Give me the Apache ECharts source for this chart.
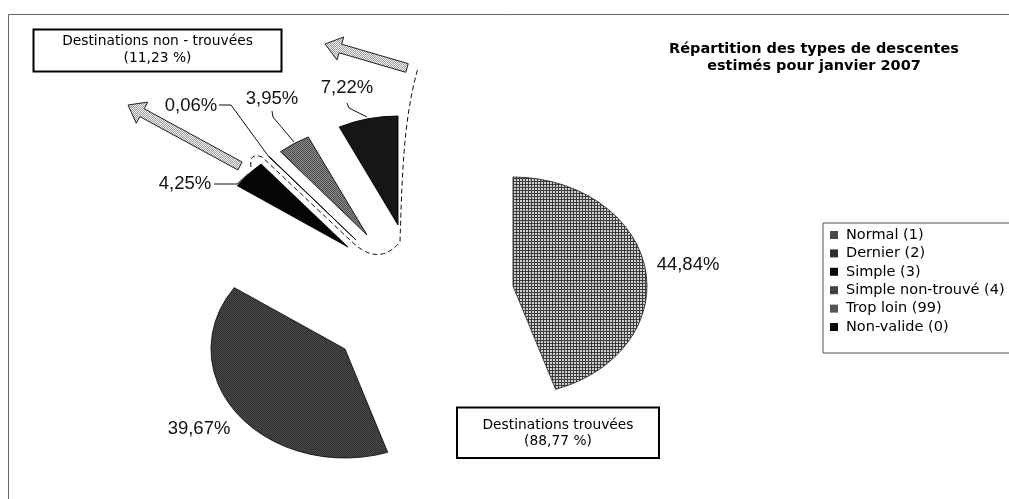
<!DOCTYPE html>
<html><head><meta charset="utf-8">
<script src="https://cdn.jsdelivr.net/npm/echarts@6/dist/echarts.min.js"></script>
<style>html,body{margin:0;padding:0;background:#fff}#chart{width:1009px;height:499px}</style>
</head><body><div id="chart"></div>
<script>
// ---- data ----
const categories = ['Normal (1)', 'Dernier (2)', 'Simple (3)', 'Simple non-trouvé (4)', 'Trop loin (99)', 'Non-valide (0)'];
const shares = [44.84, 39.67, 4.25, 0.06, 3.95, 7.22];
const groupLabels = ['Destinations non - trouvées', 'Destinations trouvées'];
const groupShares = [11.23, 88.77];
const titleLines = ['Répartition des types de descentes', 'estimés pour janvier 2007'];

// ---- layout / style ----
const RX = 134, RY = 109;
function tile(size, cells) {
  const c = document.createElement('canvas');
  c.width = c.height = size;
  const ctx = c.getContext('2d');
  for (let y = 0; y < size; y++) for (let x = 0; x < size; x++) {
    ctx.fillStyle = cells[y][x];
    ctx.fillRect(x, y, 1, 1);
  }
  return c;
}
function pat(canvas, counter) {
  return {image: canvas, repeat: 'repeat', scaleY: counter ? RX / RY : 1};
}
const D = '#3c3c3c', L = '#cfcfcf';
const normalTile = tile(3, [[D, D, D], [D, L, L], [D, L, L]]);
const dernierTile = tile(2, [['#2e2e2e', '#4c4c4c'], ['#444', '#333']]);
const tropTile = tile(2, [['#4a4a4a', '#8e8e8e'], ['#8e8e8e', '#4a4a4a']]);
const arrowTile = tile(2, [['#f4f4f4', '#9c9c9c'], ['#9c9c9c', '#f4f4f4']]);

const sliceColors = [pat(normalTile, true), pat(dernierTile, true), '#050505', '#1a1a1a', pat(tropTile, true), '#161616'];
const sliceStrokes = ['#333', '#111', '#000', '#000', '#111', '#000'];
const legendColors = ['#4a4a4a', '#2e2e2e', '#0a0a0a', '#444', '#555', '#0a0a0a'];
const centers = [[513, 286], [345, 349], [348, 247], [356, 240], [367, 235], [398, 225]];
const labelPos = [[688, 265], [199, 429], [185, 184], [191, 106], [272, 99], [347, 88]];
const leaders = [null, null,
  [[214, 184], [237, 184], [248, 174]],
  [[219, 105], [231, 105], [269, 157]],
  [[272, 111], [273, 117], [294, 142]],
  [[347, 103], [349, 108], [367, 117]]];

const fmt = v => v.toFixed(2).replace('.', ',') + '%';
const fmtG = v => '(' + v.toFixed(2).replace('.', ',') + ' %)';
const total = shares.reduce((a, b) => a + b, 0);
const cum = shares.map((v, i) => shares.slice(0, i).reduce((a, b) => a + b, 0));

const chart = echarts.init(document.getElementById('chart'), null, {renderer: 'canvas'});

const series = categories.map((name, i) => ({
  type: 'custom',
  name: name,
  coordinateSystem: 'none',
  itemStyle: {color: legendColors[i]},
  silent: true,
  data: [[cum[i], shares[i]]],
  renderItem: function (params, api) {
    const start = api.value(0), val = api.value(1);
    const a0 = -Math.PI / 2 + start / total * 2 * Math.PI;
    const a1 = -Math.PI / 2 + (start + val) / total * 2 * Math.PI;
    const children = [{
      type: 'sector',
      x: centers[i][0], y: centers[i][1], scaleY: RY / RX,
      shape: {cx: 0, cy: 0, r0: 0, r: RX, startAngle: a0, endAngle: a1, clockwise: true},
      style: {fill: sliceColors[i], stroke: sliceStrokes[i], lineWidth: 1, strokeNoScale: true}
    }, {
      type: 'text',
      x: labelPos[i][0], y: labelPos[i][1],
      style: {text: fmt(val), fill: '#111', fontSize: 18.5, fontFamily: '"Liberation Sans", Arial, sans-serif',
        align: 'center', verticalAlign: 'middle'}
    }];
    if (leaders[i]) {
      children.push({type: 'polyline', shape: {points: leaders[i]}, style: {stroke: '#111', lineWidth: 1, fill: null}});
    }
    return {type: 'group', children: children};
  }
}));

function arrow(tail, tip, hw, headLen, headHw) {
  const dx = tip[0] - tail[0], dy = tip[1] - tail[1];
  const Ln = Math.hypot(dx, dy), ux = dx / Ln, uy = dy / Ln, nx = -uy, ny = ux;
  const bx = tip[0] - ux * headLen, by = tip[1] - uy * headLen;
  return [
    [tail[0] + nx * hw, tail[1] + ny * hw],
    [bx + nx * hw, by + ny * hw],
    [bx + nx * headHw, by + ny * headHw],
    tip,
    [bx - nx * headHw, by - ny * headHw],
    [bx - nx * hw, by - ny * hw],
    [tail[0] - nx * hw, tail[1] - ny * hw]
  ];
}
function quad(p0, c, p1, n) {
  const out = [];
  for (let k = 1; k <= n; k++) {
    const t = k / n, m = 1 - t;
    out.push([m * m * p0[0] + 2 * m * t * c[0] + t * t * p1[0], m * m * p0[1] + 2 * m * t * c[1] + t * t * p1[1]]);
  }
  return out;
}
function cubic(p0, c1, c2, p1, n) {
  const out = [];
  for (let k = 1; k <= n; k++) {
    const t = k / n, m = 1 - t;
    out.push([m * m * m * p0[0] + 3 * m * m * t * c1[0] + 3 * m * t * t * c2[0] + t * t * t * p1[0],
      m * m * m * p0[1] + 3 * m * m * t * c1[1] + 3 * m * t * t * c2[1] + t * t * t * p1[1]]);
  }
  return out;
}
let dashPts = [[251, 167]];
dashPts = dashPts.concat(quad([251, 167], [249, 152], [262, 157], 10));
dashPts.push([350, 240]);
dashPts = dashPts.concat(quad([350, 240], [378, 268], [400, 242], 14));
dashPts = dashPts.concat(cubic([400, 242], [402, 180], [403, 120], [418, 68], 20));

const boxFont = '"DejaVu Sans", Verdana, sans-serif';
const arrowFill = {image: arrowTile, repeat: 'repeat'};

chart.setOption({
  backgroundColor: '#fff',
  animation: false,
  title: {
    text: titleLines.join('\n'),
    left: 814, top: 40, padding: 0, textAlign: 'center',
    textStyle: {fontFamily: boxFont, fontWeight: 'bold', fontSize: 14.5, lineHeight: 17.5, color: '#000'}
  },
  legend: {
    orient: 'vertical', left: 823, top: 223,
    padding: [4, 40, 18, 7],
    itemWidth: 8, itemHeight: 8, itemGap: 2.4,
    icon: 'rect', selectedMode: false,
    borderColor: '#555', borderWidth: 1,
    textStyle: {fontFamily: boxFont, fontSize: 14.5, color: '#000', lineHeight: 16, padding: [0, 0, 0, 3]},
    data: categories.map((n, i) => ({name: n, itemStyle: {color: legendColors[i], borderWidth: 0}}))
  },
  graphic: [
    {type: 'rect', silent: true, z: 0, shape: {x: 8.5, y: 14.5, width: 1100, height: 600},
      style: {fill: null, stroke: '#666', lineWidth: 1}},
    {type: 'polygon', silent: true, shape: {points: arrow([240, 166], [128, 105], 4.5, 16, 12)},
      style: {fill: arrowFill, stroke: '#222', lineWidth: 1}},
    {type: 'polygon', silent: true, shape: {points: arrow([407, 68], [325, 44], 4.5, 16, 12)},
      style: {fill: arrowFill, stroke: '#222', lineWidth: 1}},
    {type: 'polyline', silent: true, shape: {points: dashPts},
      style: {fill: null, stroke: '#111', lineWidth: 1, lineDash: [5, 3]}},
    {type: 'rect', silent: true, shape: {x: 33.5, y: 29.5, width: 248, height: 42},
      style: {fill: '#fff', stroke: '#000', lineWidth: 2}},
    {type: 'text', silent: true, x: 157.5, y: 50,
      style: {text: groupLabels[0] + '\n' + fmtG(groupShares[0]), fill: '#000', fontSize: 13.8, fontFamily: boxFont,
        lineHeight: 16.6, align: 'center', verticalAlign: 'middle'}},
    {type: 'rect', silent: true, shape: {x: 457, y: 407.5, width: 202, height: 50.5},
      style: {fill: '#fff', stroke: '#000', lineWidth: 2}},
    {type: 'text', silent: true, x: 558, y: 433.2,
      style: {text: groupLabels[1] + '\n' + fmtG(groupShares[1]), fill: '#000', fontSize: 13.8, fontFamily: boxFont,
        lineHeight: 16.5, align: 'center', verticalAlign: 'middle'}}
  ],
  series: series
});
</script>
</body></html>
